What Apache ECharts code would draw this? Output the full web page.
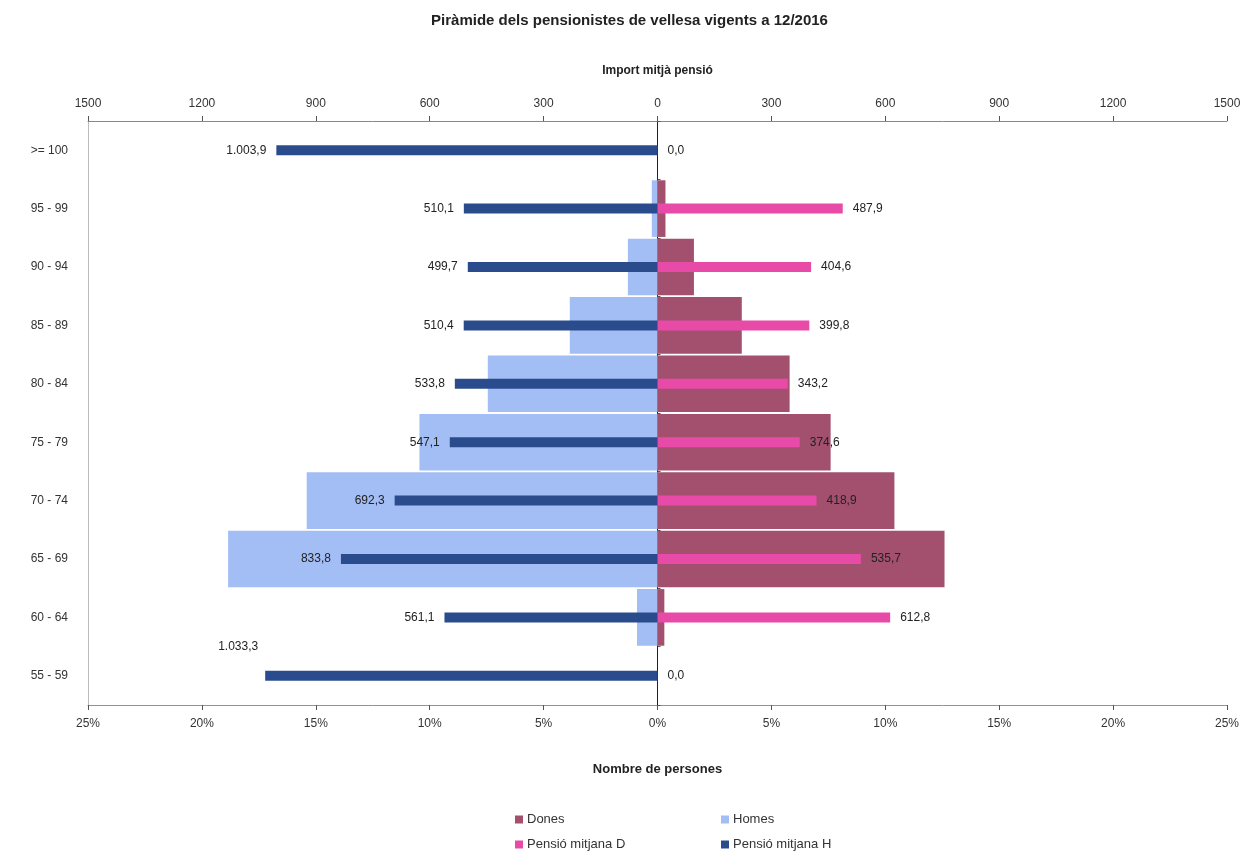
<!DOCTYPE html>
<html>
<head>
<meta charset="utf-8">
<script src="https://cdn.jsdelivr.net/npm/echarts@6/dist/echarts.min.js"></script>
<style>
  html, body { margin: 0; padding: 0; background: #fff; }
  #main { width: 1259px; height: 856px; }
</style>
</head>
<body>
<div id="main"></div>
<script>
// categories, top to bottom
var edats = ['>= 100', '95 - 99', '90 - 94', '85 - 89', '80 - 84', '75 - 79', '70 - 74', '65 - 69', '60 - 64', '55 - 59'];
// % of persons
var dones = [0, 0.35, 1.6, 3.7, 5.8, 7.6, 10.4, 12.6, 0.3, 0];
var homes = [0, 0.25, 1.3, 3.85, 7.45, 10.45, 15.4, 18.85, 0.9, 0];
// average pension
var pensioD = [0.0, 487.9, 404.6, 399.8, 343.2, 374.6, 418.9, 535.7, 612.8, 0.0];
var pensioH = [1003.9, 510.1, 499.7, 510.4, 533.8, 547.1, 692.3, 833.8, 561.1, 1033.3];

var font = '"Liberation Sans", Arial, sans-serif';

function fmt(v) {
	v = Math.abs(v);
	var s = v.toFixed(1).split('.');
	var ent = s[0].replace(/\B(?=(\d{3})+(?!\d))/g, '.');
	return ent + ',' + s[1];
}

var myChart = echarts.init(document.getElementById('main'));

var option = {
	backgroundColor: '#fff',
	textStyle: { fontFamily: font },
	title: {
		text: 'Piràmide dels pensionistes de vellesa vigents a 12/2016',
		left: 'center',
		top: 8,
		textStyle: { fontSize: 15, fontWeight: 'bold', color: '#222', fontFamily: font }
	},
	legend: [{
		orient: 'vertical',
		left: 510,
		top: 808,
		itemWidth: 8,
		itemHeight: 8,
		itemGap: 12,
		icon: 'rect',
		textStyle: { fontSize: 13, color: '#333', padding: [0, 0, 0, -1] },
		data: ['Dones', 'Pensió mitjana D']
	}, {
		orient: 'vertical',
		left: 716,
		top: 808,
		itemWidth: 8,
		itemHeight: 8,
		itemGap: 12,
		icon: 'rect',
		textStyle: { fontSize: 13, color: '#333', padding: [0, 0, 0, -1] },
		data: ['Homes', 'Pensió mitjana H']
	}],
	grid: {
		left: 88,
		right: 32,
		top: 121,
		bottom: 151
	},
	xAxis: [{
		type: 'value',
		position: 'bottom',
		min: -25,
		max: 25,
		interval: 5,
		name: 'Nombre de persones',
		nameLocation: 'middle',
		nameGap: 58,
		nameTextStyle: { fontSize: 13, fontWeight: 'bold', color: '#222' },
		axisLine: { show: true, onZero: false, lineStyle: { color: '#8a94a0' } },
		axisTick: { show: true, length: 5, lineStyle: { color: '#555' } },
		axisLabel: {
			fontSize: 12, color: '#333', margin: 13,
			formatter: function (v) { return Math.abs(v) + '%'; }
		},
		splitLine: { show: false }
	}, {
		type: 'value',
		position: 'top',
		min: -1500,
		max: 1500,
		interval: 300,
		name: 'Import mitjà pensió',
		nameLocation: 'middle',
		nameGap: 44,
		nameTextStyle: { fontSize: 12, fontWeight: 'bold', color: '#222' },
		axisLine: { show: true, onZero: false, lineStyle: { color: '#6f8fa8' } },
		axisTick: { show: true, length: 5, lineStyle: { color: '#555' } },
		axisLabel: {
			fontSize: 12, color: '#333', margin: 11,
			formatter: function (v) { return Math.abs(v); }
		},
		splitLine: { show: false }
	}],
	yAxis: [{
		type: 'category',
		inverse: true,
		data: edats,
		axisLine: { show: true, onZero: false, lineStyle: { color: '#bbb' } },
		axisTick: { show: false },
		axisLabel: { fontSize: 12, color: '#333', margin: 20 }
	}, {
		type: 'category',
		inverse: true,
		data: edats,
		position: 'left',
		axisLine: { show: true, onZero: true, onZeroAxisIndex: 0, lineStyle: { color: '#222' } },
		axisTick: { show: true, inside: true, length: 3, lineStyle: { color: '#555' } },
		axisLabel: { show: false }
	}],
	series: [{
		name: 'Dones',
		type: 'bar',
		xAxisIndex: 0,
		yAxisIndex: 0,
		stack: 'pob',
		barCategoryGap: '3%',
		itemStyle: { color: '#a3506e' },
		data: dones
	}, {
		name: 'Homes',
		type: 'bar',
		xAxisIndex: 0,
		yAxisIndex: 0,
		stack: 'pob',
		itemStyle: { color: '#a3bdf5' },
		data: homes.map(function (v) { return -v; })
	}, {
		name: 'Pensió mitjana D',
		type: 'bar',
		xAxisIndex: 1,
		yAxisIndex: 1,
		stack: 'pen',
		barWidth: 10,
		itemStyle: { color: '#e84aa8' },
		label: {
			show: true,
			position: 'right',
			distance: 10,
			fontSize: 12,
			color: '#222',
			formatter: function (p) { return fmt(p.value); }
		},
		data: pensioD
	}, {
		name: 'Pensió mitjana H',
		type: 'bar',
		xAxisIndex: 1,
		yAxisIndex: 1,
		stack: 'pen',
		barWidth: 10,
		itemStyle: { color: '#2a4c8c' },
		label: {
			show: true,
			position: 'left',
			distance: 10,
			fontSize: 12,
			color: '#222',
			formatter: function (p) { return fmt(p.value); }
		},
		data: pensioH.map(function (v, i) {
			if (i === pensioH.length - 1) {
				return { value: -v, label: { position: [-47, -30] } };
			}
			return -v;
		})
	}]
};

myChart.setOption(option);
window.addEventListener('resize', function () {
	myChart.resize();
});
</script>
</body>
</html>
